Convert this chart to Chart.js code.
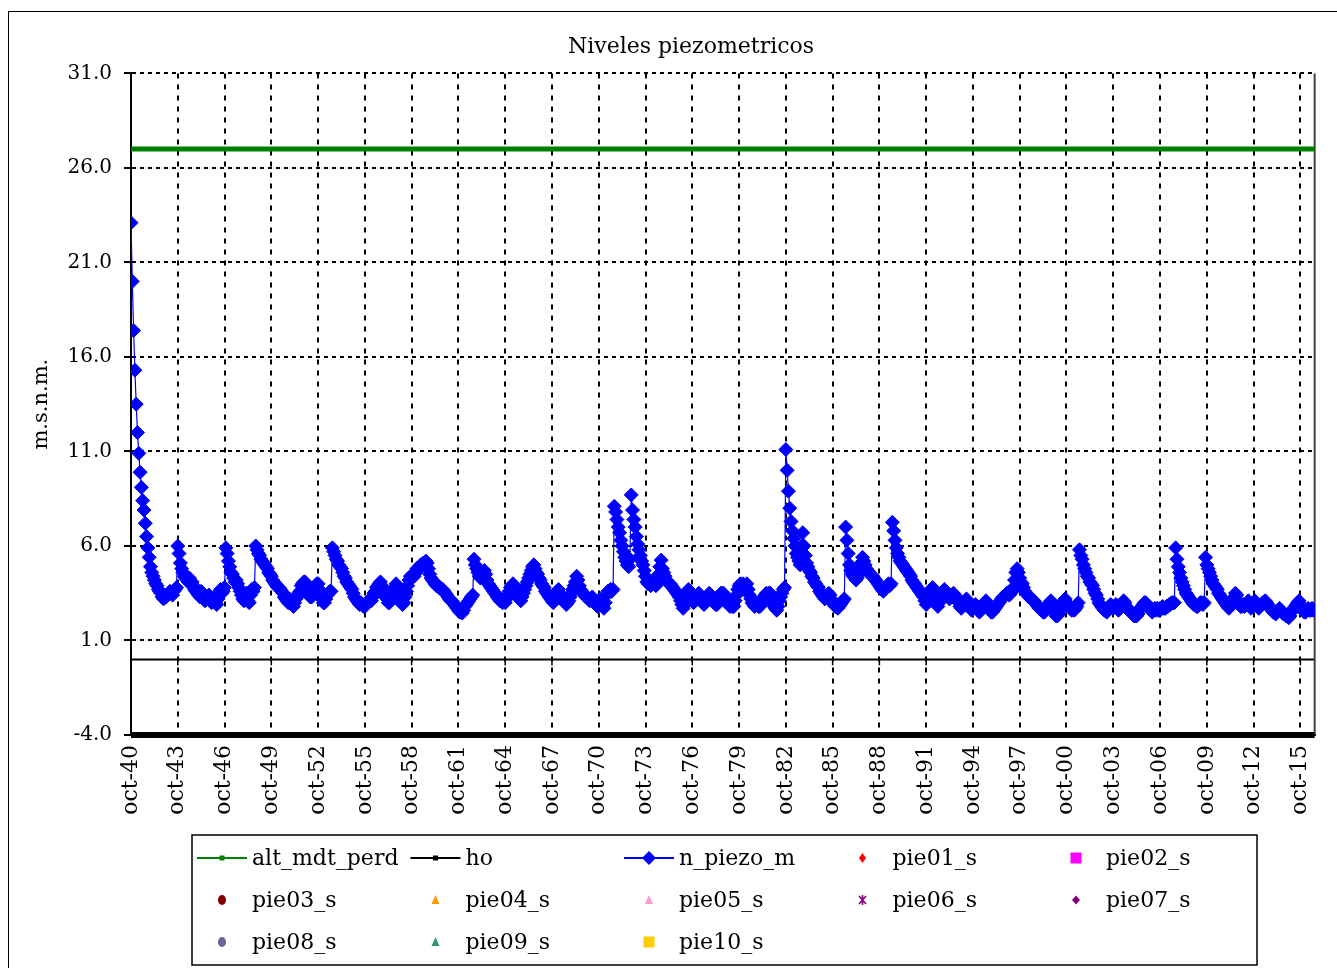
<!DOCTYPE html>
<html><head><meta charset="utf-8">
<script src="https://cdn.jsdelivr.net/npm/chart.js@4.4.1/dist/chart.umd.min.js"></script>
<style>
html,body{margin:0;padding:0;background:#fff;overflow:hidden;}
#wrap{position:relative;width:1337px;height:968px;}
#frame{position:absolute;left:8px;top:11px;width:1340px;height:970px;border-left:1.5px solid #000;border-top:1.5px solid #000;}
canvas{position:absolute;left:0;top:0;}
</style></head><body>
<div id="wrap"><div id="frame"></div><canvas id="c" width="1337" height="968"></canvas></div>
<script>
// ---- data ----
const chartTitle = 'Niveles piezometricos';
const yAxisTitle = 'm.s.n.m.';
// x = month index, 0 = oct-1940
const xTickMonths = [0,36,72,108,144,180,216,252,288,324,360,396,432,468,504,540,576,612,648,684,720,756,792,828,864,900];
const xTickLabels = ['oct-40','oct-43','oct-46','oct-49','oct-52','oct-55','oct-58','oct-61','oct-64','oct-67','oct-70','oct-73','oct-76','oct-79','oct-82','oct-85','oct-88','oct-91','oct-94','oct-97','oct-00','oct-03','oct-06','oct-09','oct-12','oct-15'];
const yTickValues = [-4, 1, 6, 11, 16, 21, 26, 31];
const xMonthMax = 911;
const flatSeriesMonths = [0, 911];
const altMdtPerd = [27.0, 27.0];
const ho = [-4.0, -4.0];
// n_piezo_m : monthly levels (one row = one year from October)
const nPiezoM = [
23.1,20.0,17.4,15.3,13.5,12.0,10.9,9.9,9.1,8.4,7.9,7.2,
6.5,5.9,5.4,4.9,4.6,4.4,4.2,4.0,3.9,3.7,3.6,3.5,
3.3,3.2,3.4,3.3,3.4,3.5,3.6,3.5,3.4,3.6,3.7,3.8,
6.0,5.6,5.1,4.8,4.6,4.4,4.3,4.2,4.1,4.3,4.0,4.1,
3.9,3.7,3.6,3.5,3.4,3.3,3.6,3.4,3.2,3.1,3.3,3.2,
3.4,3.2,3.0,3.1,3.3,3.0,2.9,3.2,3.5,3.7,3.5,3.6,
3.8,5.9,5.6,5.2,4.9,4.6,4.5,4.3,4.1,4.2,4.0,3.8,
3.6,3.4,3.2,3.1,3.3,3.5,3.1,3.0,3.4,3.7,3.6,3.8,
6.0,5.8,5.6,5.5,5.3,5.2,5.1,5.0,4.9,4.8,4.6,4.5,
4.4,4.2,4.1,4.0,3.9,3.8,3.8,3.7,3.6,3.5,3.3,3.2,
3.1,3.0,3.2,3.1,2.9,2.8,3.0,3.2,3.3,3.5,3.6,3.9,
4.0,4.1,4.1,3.8,3.6,3.4,3.3,3.3,3.5,3.7,3.9,4.0,
4.0,3.7,3.4,3.2,3.0,3.0,3.2,3.4,3.5,3.6,3.6,5.9,
5.7,5.5,5.3,5.2,5.0,4.9,4.8,4.6,4.4,4.3,4.1,4.0,
3.9,3.8,3.7,3.5,3.3,3.2,3.1,3.0,2.9,3.0,2.9,2.8,
2.8,2.9,3.0,3.1,3.2,3.1,3.3,3.5,3.6,3.8,3.9,4.0,
4.1,3.9,3.7,3.5,3.3,3.2,3.0,3.0,3.2,3.4,3.6,3.8,
4.0,3.8,3.6,3.4,3.1,2.9,3.0,3.3,3.6,3.9,4.2,4.4,
4.3,4.5,4.4,4.6,4.8,4.7,4.9,5.0,5.0,5.1,5.1,5.2,
5.1,4.8,4.5,4.3,4.2,4.1,4.0,3.9,3.9,3.8,3.8,3.7,
3.7,3.6,3.5,3.4,3.3,3.2,3.1,3.1,3.0,2.9,2.8,2.7,
2.6,2.5,2.5,2.45,2.6,2.8,2.9,3.0,3.1,3.2,3.3,3.4,
5.3,5.0,4.8,4.6,4.4,4.3,4.4,4.6,4.7,4.5,4.2,4.0,
3.9,3.8,3.7,3.6,3.5,3.4,3.3,3.2,3.1,3.2,3.0,3.1,
3.0,3.2,3.4,3.6,3.8,3.9,4.0,3.8,3.6,3.4,3.3,3.2,
3.1,3.3,3.5,3.7,3.9,4.1,4.3,4.5,4.7,4.9,5.0,4.8,
4.6,4.5,4.3,4.2,4.0,3.9,3.8,3.6,3.5,3.4,3.3,3.2,
3.1,3.0,3.2,3.4,3.6,3.7,3.5,3.3,3.2,3.1,3.0,2.9,
3.0,3.1,3.3,3.5,3.7,3.9,4.1,4.4,4.2,3.9,3.7,3.6,
3.5,3.4,3.3,3.3,3.2,3.1,3.2,3.3,3.1,3.0,2.9,2.8,
3.0,3.2,3.0,2.8,2.7,3.0,3.4,3.6,3.6,3.7,3.6,3.7,
8.1,7.8,7.4,7.0,6.7,6.3,6.0,5.7,5.4,5.2,5.0,4.9,
5.3,8.7,7.9,7.4,7.0,6.5,6.1,5.8,5.5,5.2,5.0,4.7,
4.4,4.1,4.0,4.1,3.9,4.0,4.1,4.0,3.9,4.1,4.5,4.9,
5.25,4.8,4.6,4.4,4.2,4.1,4.0,4.0,3.9,3.8,3.7,3.6,
3.5,3.4,3.3,3.1,2.9,2.7,2.9,3.2,3.5,3.7,3.5,3.3,
3.1,3.0,3.1,3.2,3.4,3.5,3.3,3.1,3.0,2.9,3.0,3.2,
3.3,3.5,3.4,3.2,3.1,3.0,2.9,2.9,3.1,3.3,3.5,3.5,
3.5,3.3,3.1,3.0,2.9,2.8,2.9,2.8,2.8,3.1,3.4,3.7,
3.9,4.0,3.9,4.0,3.8,3.7,4.0,3.7,3.4,3.2,3.0,2.9,
2.8,3.0,2.9,2.8,2.8,2.9,3.1,3.3,3.4,3.5,3.4,3.5,
3.5,3.2,3.0,2.8,2.7,2.6,2.8,3.1,3.3,3.5,3.7,3.8,
11.1,10.0,8.9,8.0,7.3,6.8,6.4,6.0,5.6,5.4,5.2,5.0,
6.0,6.7,6.0,5.5,5.1,4.9,4.7,4.6,4.4,4.3,4.1,4.0,
3.9,3.8,3.6,3.5,3.4,3.3,3.2,3.3,3.4,3.5,3.4,3.2,
3.0,2.9,2.8,2.8,2.7,2.8,2.9,3.0,3.1,3.2,7.0,6.3,
5.6,5.0,4.7,4.5,4.4,4.3,4.2,4.3,4.5,4.8,5.1,5.4,
5.2,5.0,4.8,4.7,4.6,4.5,4.4,4.4,4.3,4.2,4.1,4.0,
3.9,3.8,3.7,3.6,3.7,3.8,3.9,4.0,3.9,4.0,7.25,6.8,
6.3,5.9,5.6,5.4,5.2,5.1,5.0,4.9,4.8,4.7,4.6,4.5,
4.4,4.2,4.1,4.0,3.9,3.8,3.7,3.6,3.5,3.4,3.3,3.1,
2.9,3.1,3.3,3.5,3.7,3.8,3.6,3.3,3.0,2.8,3.0,3.2,
3.4,3.6,3.7,3.5,3.4,3.3,3.2,3.3,3.4,3.5,3.4,3.3,
3.1,3.0,2.8,2.7,2.8,2.9,3.1,3.2,3.0,2.8,2.7,2.6,
2.7,2.8,2.9,2.8,2.6,2.5,2.6,2.8,2.9,3.0,3.1,2.9,
2.7,2.6,2.5,2.5,2.6,2.7,2.8,2.9,3.0,3.1,3.2,3.3,
3.3,3.4,3.5,3.5,3.4,3.5,3.6,3.8,4.2,4.6,4.8,4.6,
4.3,4.1,4.0,3.8,3.6,3.5,3.4,3.3,3.3,3.2,3.1,3.1,
3.0,2.9,2.8,2.7,2.7,2.6,2.5,2.5,2.6,2.8,2.9,3.0,
3.1,2.9,2.7,2.5,2.3,2.3,2.4,2.6,2.8,3.0,3.1,3.2,
3.0,2.9,2.8,2.7,2.6,2.7,2.6,2.7,2.8,3.0,5.8,5.5,
5.3,5.0,4.8,4.6,4.4,4.3,4.1,4.0,3.9,3.7,3.5,3.4,
3.2,3.0,2.9,2.8,2.7,2.6,2.6,2.5,2.7,2.8,2.9,2.8,
2.7,2.8,2.9,2.8,2.6,2.7,2.8,3.0,3.1,3.0,2.8,2.7,
2.6,2.5,2.5,2.4,2.3,2.3,2.3,2.4,2.6,2.7,2.8,2.9,
3.0,3.0,2.9,2.8,2.7,2.6,2.5,2.6,2.7,2.6,2.7,2.6,
2.6,2.7,2.8,2.7,2.7,2.8,2.8,2.9,2.9,3.0,3.0,3.0,
5.9,5.3,4.9,4.6,4.3,4.1,3.9,3.7,3.5,3.4,3.3,3.2,
3.1,3.0,2.9,2.9,2.8,2.8,2.9,3.0,3.0,2.9,3.0,5.4,
5.0,4.8,4.6,4.4,4.2,4.0,3.9,3.8,3.7,3.5,3.4,3.3,
3.2,3.1,3.0,2.9,2.8,2.7,2.8,2.9,3.1,3.3,3.5,3.4,
3.1,2.9,2.8,2.8,2.9,2.8,2.9,3.0,3.1,2.9,2.7,2.8,
3.0,3.1,2.9,2.8,2.7,2.8,2.9,3.0,3.0,3.1,3.0,2.9,
2.8,2.7,2.6,2.5,2.5,2.4,2.5,2.6,2.7,2.6,2.5,2.4,
2.4,2.3,2.3,2.2,2.3,2.5,2.6,2.7,2.8,2.9,3.0,3.1,
2.9,2.8,2.6,2.5,2.5,2.6,2.7,2.6,2.6,2.7,2.6,2.6
];
const pieLabels = ['pie01_s','pie02_s','pie03_s','pie04_s','pie05_s','pie06_s','pie07_s','pie08_s','pie09_s','pie10_s'];
const pieColors = ['#FF0000','#FF00FF','#800000','#FF9900','#FF99CC','#800080','#800080','#666699','#339966','#FFCC00'];
const pieStyles = ['thinDiamond','rect','oval','triangle','triangle','star6','rectRot','oval','triangle','rect'];

// ---- chart ----
const FONT = 'DejaVu Serif';
const datasets = [
  {label:'alt_mdt_perd', data: flatSeriesMonths.map((m,i)=>({x:m,y:altMdtPerd[i]})), borderColor:'#008000', backgroundColor:'#008000', borderWidth:5, pointRadius:0, clip:false, legendLine:true, legendStyle:'smallRect'},
  {label:'ho', data: flatSeriesMonths.map((m,i)=>({x:m,y:ho[i]})), borderColor:'#000000', backgroundColor:'#000000', borderWidth:6, pointRadius:0, clip:false, legendLine:true, legendStyle:'smallRect'},
  {label:'n_piezo_m', data: nPiezoM.map((v,i)=>({x:i,y:v})), borderColor:'#0000FF', backgroundColor:'#0000FF', borderWidth:1.2, pointStyle:'rectRot', pointRadius:7, pointBorderWidth:1, pointBackgroundColor:'#0000FF', pointBorderColor:'#0000FF', legendLine:true, legendStyle:'bigDiamond'}
];
pieLabels.forEach((l,i)=>datasets.push({label:l, data:[], borderColor:pieColors[i], backgroundColor:pieColors[i], showLine:false, legendLine:false, legendStyle:pieStyles[i]}));

function drawMarker(ctx, style, x, y, color){
  ctx.save();
  ctx.fillStyle = color; ctx.strokeStyle = color; ctx.lineWidth = 1;
  ctx.beginPath();
  switch(style){
    case 'smallRect': ctx.rect(x-2.5,y-2.5,5,5); ctx.fill(); break;
    case 'bigDiamond': ctx.moveTo(x,y-7); ctx.lineTo(x+7,y); ctx.lineTo(x,y+7); ctx.lineTo(x-7,y); ctx.closePath(); ctx.fill(); break;
    case 'thinDiamond': ctx.moveTo(x,y-5); ctx.lineTo(x+3.5,y); ctx.lineTo(x,y+5); ctx.lineTo(x-3.5,y); ctx.closePath(); ctx.fill(); break;
    case 'rectRot': ctx.moveTo(x,y-4.5); ctx.lineTo(x+4,y); ctx.lineTo(x,y+4.5); ctx.lineTo(x-4,y); ctx.closePath(); ctx.fill(); break;
    case 'rect': ctx.rect(x-5.5,y-5.5,11,11); ctx.fill(); break;
    case 'oval': ctx.ellipse(x,y,4,5,0,0,Math.PI*2); ctx.fill(); break;
    case 'triangle': ctx.moveTo(x,y-5); ctx.lineTo(x+4,y+4); ctx.lineTo(x-4,y+4); ctx.closePath(); ctx.fill(); break;
    case 'star6':
      ctx.lineWidth = 1.6;
      ctx.moveTo(x-3.5,y-4); ctx.lineTo(x+3.5,y+4);
      ctx.moveTo(x+3.5,y-4); ctx.lineTo(x-3.5,y+4);
      ctx.moveTo(x,y-5); ctx.lineTo(x,y+5);
      ctx.stroke(); break;
  }
  ctx.restore();
}

const gridLegend = {
  id:'gridLegend',
  afterDraw(chart){
    const ctx = chart.ctx;
    const box = {l:192, t:835, w:1065, h:130};
    ctx.save();
    ctx.strokeStyle = '#000'; ctx.lineWidth = 1.5;
    ctx.strokeRect(box.l, box.t, box.w, box.h);
    const colW = 213.5, rowH = 42, cols = 5;
    ctx.font = '22px "' + FONT + '"';
    ctx.fillStyle = '#000'; ctx.textBaseline = 'middle'; ctx.textAlign = 'left';
    chart.data.datasets.forEach((ds,i)=>{
      const c = i % cols, r = Math.floor(i/cols);
      const x0 = box.l + 5 + c*colW, yc = box.t + 23 + r*rowH;
      if (ds.legendLine){
        ctx.strokeStyle = ds.borderColor; ctx.lineWidth = 2;
        ctx.beginPath(); ctx.moveTo(x0, yc); ctx.lineTo(x0+50, yc); ctx.stroke();
      }
      drawMarker(ctx, ds.legendStyle, x0+25, yc, ds.backgroundColor);
      ctx.fillStyle = '#000';
      ctx.fillText(ds.label, x0+55, yc+1);
    });
    ctx.restore();
  }
};

const zeroAxis = {
  id:'zeroAxis',
  beforeDatasetsDraw(chart){
    const {ctx, chartArea, scales:{x,y}} = chart;
    const py = y.getPixelForValue(0);
    ctx.save();
    ctx.strokeStyle = '#000'; ctx.lineWidth = 2;
    ctx.beginPath(); ctx.moveTo(chartArea.left, py); ctx.lineTo(chartArea.right, py); ctx.stroke();
    ctx.lineWidth = 1.5;
    x.ticks.forEach(t=>{ const px = x.getPixelForValue(t.value); ctx.beginPath(); ctx.moveTo(px, py); ctx.lineTo(px, py+6); ctx.stroke(); });
    ctx.strokeStyle = '#404040'; ctx.lineWidth = 2;
    ctx.beginPath(); ctx.moveTo(chartArea.right, chartArea.top); ctx.lineTo(chartArea.right, chartArea.bottom); ctx.stroke();
    ctx.restore();
  }
};

const PAD_LEFT = 64;
new Chart(document.getElementById('c'), {
  type:'line',
  data:{datasets},
  plugins:[zeroAxis, gridLegend],
  options:{
    responsive:false, maintainAspectRatio:false, animation:false,
    layout:{padding:{left:PAD_LEFT, right:19, top:0, bottom:143}},
    plugins:{
      legend:{display:false}, tooltip:{enabled:false},
      title:{display:true, text:chartTitle, color:'#000', font:{family:FONT, size:22, weight:'normal'}, padding:{top:34, bottom:13}}
    },
    scales:{
      x:{type:'linear', min:0, max:xMonthMax,
        afterBuildTicks:(s)=>{ s.ticks = xTickMonths.map(v=>({value:v})); },
        afterFit:(s)=>{ s.height = 90; },
        ticks:{autoSkip:false, minRotation:90, maxRotation:90, padding:10, color:'#000', font:{family:FONT, size:22},
          callback:(v,i)=> xTickLabels[i]},
        grid:{color:'#000', lineWidth:2, drawTicks:false},
        border:{display:true, color:'#000', width:2, dash:[5,6]}
      },
      y:{type:'linear', min:-4, max:31,
        afterBuildTicks:(s)=>{ s.ticks = yTickValues.map(v=>({value:v})); },
        afterFit:(s)=>{ s.width = 131 - PAD_LEFT; },
        ticks:{padding:12, color:'#000', font:{family:FONT, size:20}, callback:(v)=>Number(v).toFixed(1)},
        grid:{color:'#000', lineWidth:2, drawTicks:true, tickLength:7, tickColor:'#000', tickWidth:2, tickBorderDash:[]},
        border:{display:true, color:'#000', width:2, dash:[4,4]},
        title:{display:true, text:yAxisTitle, color:'#000', font:{family:FONT, size:21}, padding:{top:-35, bottom:0}}
      }
    }
  }
});
</script></body></html>
